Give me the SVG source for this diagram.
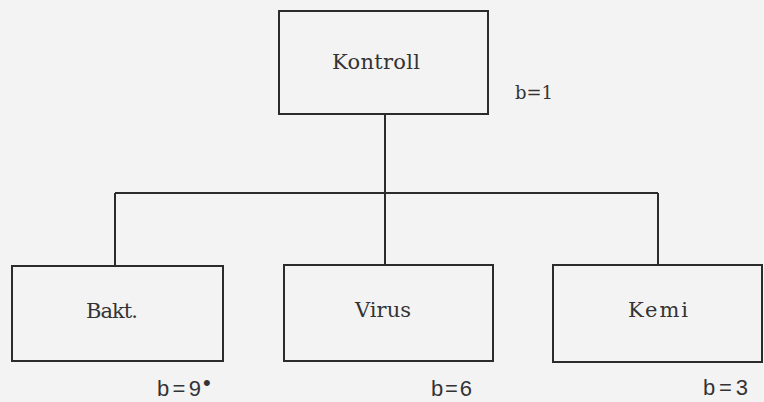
<svg xmlns="http://www.w3.org/2000/svg" width="764" height="402" viewBox="0 0 764 402">
<style>
.box{fill:none;stroke:#2b2b2b;stroke-width:2}
.conn{fill:none;stroke:#2b2b2b;stroke-width:2}
.lbl{font-family:"DejaVu Serif","Liberation Serif",serif;font-size:21px;fill:#333}
.b{font-family:"Liberation Sans","DejaVu Sans",sans-serif;font-size:22px;fill:#333}
.bs{font-family:"DejaVu Serif","Liberation Serif",serif;font-size:18px;fill:#333}
</style>
<rect width="764" height="402" fill="#f3f3f3"/>
<g id="connectors">
<path class="conn" d="M385 114 V193 M115 193 H658 M115 193 V266 M385 193 V265 M658 193 V265"/>
</g>
<g id="kontroll">
<rect class="box" x="279" y="11" width="209" height="103"/>
<text class="lbl" x="332" y="69" textLength="88">Kontroll</text>
<text class="bs" x="515" y="99" textLength="38">b=1</text>
</g>
<g id="bakt">
<rect class="box" x="12" y="266" width="211" height="95"/>
<text class="lbl" x="86" y="318" textLength="52">Bakt.</text>
<text class="b" x="157" y="396" textLength="44">b=9</text>
<text class="b" x="203" y="390" font-size="16">•</text>
</g>
<g id="virus">
<rect class="box" x="284" y="265" width="209" height="96"/>
<text class="lbl" x="355" y="317" textLength="56">Virus</text>
<text class="b" x="431" y="396" textLength="41">b=6</text>
</g>
<g id="kemi">
<rect class="box" x="553" y="265" width="209" height="97"/>
<text class="lbl" x="628" y="317" textLength="60">Kemi</text>
<text class="b" x="703" y="395" textLength="45">b=3</text>
</g>
</svg>
